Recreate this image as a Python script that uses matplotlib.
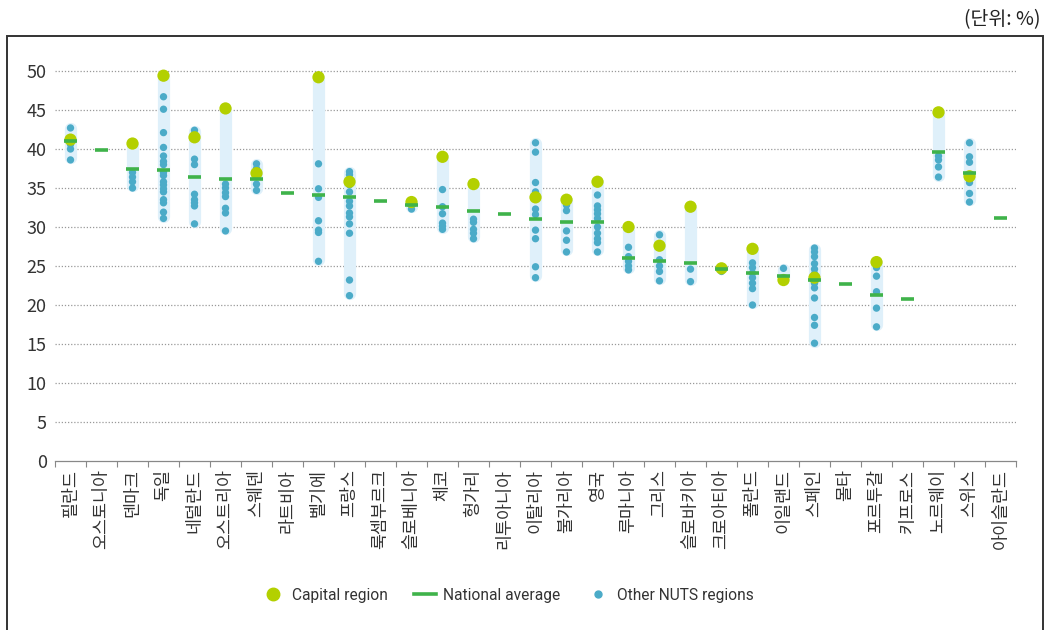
import numpy as np
import matplotlib
matplotlib.use("Agg")
import matplotlib.pyplot as plt
from matplotlib.lines import Line2D
from matplotlib.patches import Rectangle

plt.rcParams['font.family'] = ['Noto Sans CJK KR', 'DejaVu Sans']

countries = ['필란드', '오스토니아', '덴마크', '독일', '네덜란드', '오스트리아', '스웨덴', '라트비아',
             '벨기에', '프랑스', '룩셈부르크', '슬로베니아', '체코', '헝가리', '리투아니아', '이탈리아',
             '불가리아', '영국', '루마니아', '그리스', '슬로바키아', '크로아티아', '폴란드', '이일랜드',
             '스페인', '몰타', '포르투갈', '키프로스', '노르웨이', '스위스', '아이슬란드']

# capital region value (None = single-region country)
capital = [41.2, None, 40.7, 49.4, 41.5, 45.2, 36.9, None,
           49.2, 35.8, None, 33.2, 39.0, 35.5, None, 33.8,
           33.5, 35.8, 30.0, 27.6, 32.6, 24.7, 27.2, 23.2,
           23.5, None, 25.5, None, 44.7, 36.5, None]

national_avg = [41.0, 39.9, 37.5, 37.3, 36.4, 36.2, 36.2, 34.3,
                34.1, 33.8, 33.3, 32.8, 32.6, 32.0, 31.7, 31.0,
                30.7, 30.6, 26.0, 25.6, 25.4, 24.6, 24.1, 23.7,
                23.2, 22.7, 21.3, 20.8, 39.6, 36.9, 31.2]

other_regions = [
    [42.7, 40.6, 40.0, 38.6],
    [],
    [37.0, 36.4, 35.8, 35.0],
    [46.7, 45.1, 42.1, 40.2, 39.1, 38.4, 38.0, 37.0, 36.6, 35.8, 35.4, 34.9, 34.5, 33.5, 33.1, 31.9, 31.1],
    [42.4, 38.7, 38.0, 34.2, 33.5, 33.1, 32.7, 30.4],
    [35.5, 35.0, 34.4, 33.9, 32.4, 31.8, 29.5],
    [38.1, 37.5, 35.5, 34.7],
    [],
    [38.1, 34.9, 33.8, 30.8, 29.6, 29.3, 25.6],
    [37.1, 36.7, 36.0, 35.4, 34.5, 33.3, 32.7, 31.8, 31.3, 30.4, 29.2, 23.2, 21.2],
    [],
    [32.3],
    [34.8, 32.6, 31.7, 30.5, 30.1, 29.7],
    [31.0, 30.6, 29.7, 29.2, 28.5],
    [],
    [40.8, 39.6, 35.7, 34.5, 32.3, 31.6, 29.6, 28.5, 24.9, 23.5],
    [32.8, 32.1, 29.5, 28.3, 26.8],
    [34.1, 32.7, 32.2, 31.7, 31.1, 30.0, 29.2, 28.5, 28.0, 26.8],
    [27.4, 26.2, 25.6, 25.0, 24.5],
    [29.0, 25.8, 25.0, 24.3, 23.1],
    [24.6, 23.0],
    [24.3],
    [25.4, 24.8, 24.1, 23.5, 22.8, 22.1, 20.0],
    [24.7],
    [27.3, 26.8, 26.2, 25.3, 24.6, 24.0, 22.8, 22.2, 20.9, 18.4, 17.4, 15.1],
    [],
    [24.8, 23.7, 21.7, 19.6, 17.2],
    [],
    [39.1, 38.6, 37.7, 36.4],
    [40.8, 39.0, 38.3, 35.7, 34.3, 33.2],
    [],
]

yticks = [0, 5, 10, 15, 20, 25, 30, 35, 40, 45, 50]

c_capital = '#b3d000'
c_national = '#3fb34a'
c_other = '#4babc8'
c_range = '#dff0fa'

fig = plt.figure(figsize=(10.49, 6.30), dpi=100)
ax = fig.add_axes([55 / 1049, 169 / 630, 961 / 1049, 405.6 / 630])

x = np.arange(len(countries))
for i in x:
    vals = list(other_regions[i])
    if capital[i] is not None:
        vals.append(capital[i])
    if len(vals) > 1:
        lo, hi = min(vals), max(vals)
        ax.plot([i, i], [lo + 0.2, hi - 0.2], color=c_range, lw=8.8,
                solid_capstyle='round', zorder=1)
    if other_regions[i]:
        ax.scatter([i] * len(other_regions[i]), other_regions[i], s=28,
                   color=c_other, edgecolor='none', zorder=2)

cap_x = [i for i in x if capital[i] is not None]
cap_y = [capital[i] for i in cap_x]
ax.scatter(cap_x, cap_y, s=78, color=c_capital, edgecolor='none', zorder=3)
ax.hlines(national_avg, x - 0.22, x + 0.22, color=c_national, lw=2.6, zorder=4)

ax.set_xlim(-0.5, len(countries) - 0.5)
ax.set_ylim(0, 52)
ax.set_yticks(yticks)
ax.set_yticklabels([str(t) for t in yticks], fontsize=13, color='#333333')
ax.set_xticks(x)
ax.set_xticklabels(countries, rotation=90, fontsize=12.5, color='#333333')
ax.tick_params(axis='x', which='major', length=0, pad=6)
ax.tick_params(axis='y', length=0, pad=6)
ax.set_xticks(np.arange(-0.5, len(countries), 1), minor=True)
ax.tick_params(axis='x', which='minor', length=4, color='#888888', width=0.8)

for t in yticks[1:]:
    ax.axhline(t, color='#999999', lw=0.9, ls=(0, (1, 1.5)), zorder=0)

for s in ['top', 'right', 'left']:
    ax.spines[s].set_visible(False)
ax.spines['bottom'].set_color('#888888')
ax.spines['bottom'].set_linewidth(0.9)

handles = [
    Line2D([], [], marker='o', ls='none', color=c_capital, markersize=9),
    Line2D([], [], color=c_national, lw=2.6),
    Line2D([], [], marker='o', ls='none', color=c_other, markersize=5),
]
fig.legend(handles, ['Capital region', 'National average', 'Other NUTS regions'],
           loc='center', bbox_to_anchor=(0.484, 0.055), ncol=3, frameon=False,
           prop={'family': 'Roboto', 'size': 11.2},
           handlelength=1.4, columnspacing=1.7, handletextpad=0.5,
           labelcolor='#333333')

fig.text(1040 / 1049, 1 - 20 / 630, '(단위: %)', ha='right', va='center',
         fontsize=14, color='#222222')

fig.add_artist(Rectangle((7 / 1049, -0.05), 1036 / 1049, 0.05 + (630 - 36) / 630,
                         transform=fig.transFigure, fill=False,
                         edgecolor='#333333', lw=1.4))

fig.savefig('out.png', dpi=100)
